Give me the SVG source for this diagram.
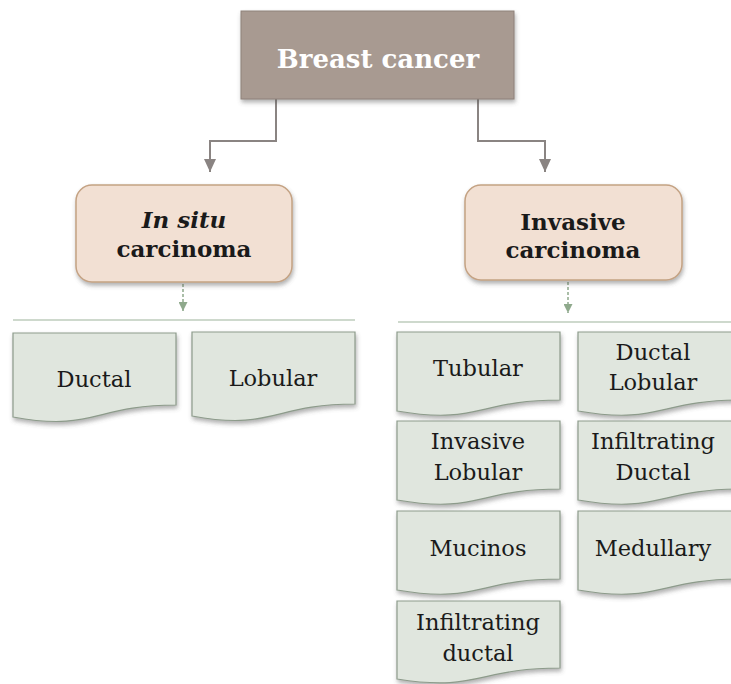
<svg xmlns="http://www.w3.org/2000/svg" width="731" height="684" viewBox="0 0 731 684">
<defs>
<filter id="sh" x="-10%" y="-10%" width="130%" height="140%">
<feDropShadow dx="1" dy="3" stdDeviation="2" flood-color="#555" flood-opacity="0.45"/>
</filter>
<marker id="ag" markerWidth="12" markerHeight="13" refX="6" refY="13" markerUnits="userSpaceOnUse" viewBox="0 0 12 13">
<path d="M0,0 L12,0 L6,13 Z" fill="#8a8482"/>
</marker>
<marker id="ad" markerWidth="9" markerHeight="9" refX="4.5" refY="9" markerUnits="userSpaceOnUse" viewBox="0 0 9 9">
<path d="M0,0 L9,0 L4.5,9 Z" fill="#8fa98c"/>
</marker>
</defs>
<style>
.top{fill:#a89a91;stroke:#8e817a;stroke-width:1}
.mid{fill:#f2e0d3;stroke:#c4a283;stroke-width:1.5}
.leaf{fill:#e0e6de;stroke:#8d9b8b;stroke-width:1.2}
.t1{font-family:"DejaVu Serif","Liberation Serif",serif;font-weight:bold;font-size:26px;fill:#ffffff;text-anchor:middle}
.t2{font-family:"DejaVu Serif","Liberation Serif",serif;font-weight:bold;font-size:23px;fill:#1a1a1a;text-anchor:middle}
.t3{font-family:"DejaVu Serif","Liberation Serif",serif;font-size:22.5px;fill:#1a1a1a;text-anchor:middle}
.c{fill:none;stroke:#8a8482;stroke-width:2}
.d{fill:none;stroke:#8fa98c;stroke-width:1.5;stroke-dasharray:3,2}
.h{fill:none;stroke:#9db39b;stroke-width:1.2}
</style>
<g id="connectors">
<path class="c" d="M276,99 V141 H210 V172" marker-end="url(#ag)"/>
<path class="c" d="M478,99 V141 H545 V172" marker-end="url(#ag)"/>
<path class="d" d="M183,284 V311" marker-end="url(#ad)"/>
<path class="d" d="M568,282 V313" marker-end="url(#ad)"/>
<path class="h" d="M13,320 H355"/>
<path class="h" d="M398,322 H731"/>
</g>
<g id="breast-cancer">
<rect class="top" x="241" y="11" width="273" height="88" filter="url(#sh)"/>
<text class="t1" x="378" y="68">Breast cancer</text>
</g>
<g id="in-situ">
<rect class="mid" x="76" y="185" width="216" height="97" rx="16" filter="url(#sh)"/>
<text class="t2" x="184" y="228"><tspan font-style="italic">In situ</tspan></text>
<text class="t2" x="184" y="257">carcinoma</text>
</g>
<g id="invasive">
<rect class="mid" x="465" y="185" width="217" height="95" rx="16" filter="url(#sh)"/>
<text class="t2" x="573" y="230">Invasive</text>
<text class="t2" x="573" y="258">carcinoma</text>
</g>
<g id="ductal">
<path class="leaf" filter="url(#sh)" d="M13,333 H176 V405 C94,405 94,432 13,417 Z"/>
<text class="t3" x="94" y="387">Ductal</text>
</g>
<g id="lobular">
<path class="leaf" filter="url(#sh)" d="M192,332 H355 V404 C273,404 273,431 192,416 Z"/>
<text class="t3" x="273" y="386">Lobular</text>
</g>
<g id="tubular">
<path class="leaf" filter="url(#sh)" d="M397,332 H560 V400 C478,400 478,425 397,411 Z"/>
<text class="t3" x="478" y="376">Tubular</text>
</g>
<g id="ductal-lobular">
<path class="leaf" filter="url(#sh)" d="M578,332 H741 V400 C659,400 659,425 578,411 Z"/>
<text class="t3" x="653" y="360">Ductal</text>
<text class="t3" x="653" y="390">Lobular</text>
</g>
<g id="invasive-lobular">
<path class="leaf" filter="url(#sh)" d="M397,421 H560 V489 C478,489 478,514 397,500 Z"/>
<text class="t3" x="478" y="449">Invasive</text>
<text class="t3" x="478" y="480">Lobular</text>
</g>
<g id="infiltrating-ductal">
<path class="leaf" filter="url(#sh)" d="M578,421 H741 V489 C659,489 659,514 578,500 Z"/>
<text class="t3" x="653" y="449">Infiltrating</text>
<text class="t3" x="653" y="480">Ductal</text>
</g>
<g id="mucinos">
<path class="leaf" filter="url(#sh)" d="M397,511 H560 V579 C478,579 478,604 397,590 Z"/>
<text class="t3" x="478" y="556">Mucinos</text>
</g>
<g id="medullary">
<path class="leaf" filter="url(#sh)" d="M578,511 H741 V579 C659,579 659,604 578,590 Z"/>
<text class="t3" x="653" y="556">Medullary</text>
</g>
<g id="infiltrating-ductal-2">
<path class="leaf" filter="url(#sh)" d="M397,601 H560 V668 C478,668 478,692 397,679 Z"/>
<text class="t3" x="478" y="630">Infiltrating</text>
<text class="t3" x="478" y="661">ductal</text>
</g>
</svg>
